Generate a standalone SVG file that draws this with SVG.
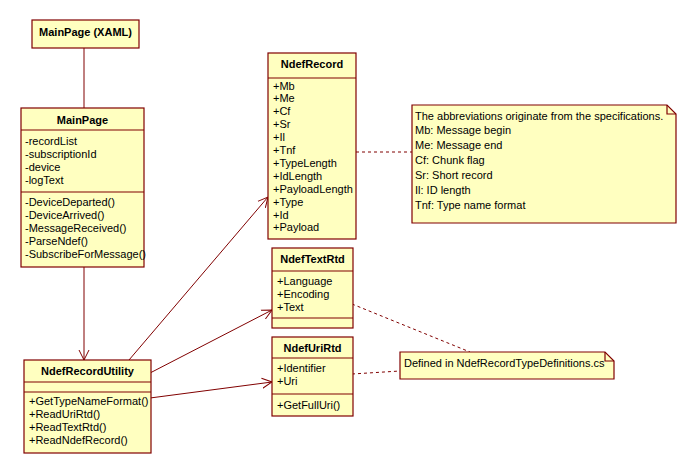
<svg xmlns="http://www.w3.org/2000/svg" width="697" height="474" viewBox="0 0 697 474">
<style>
.box{fill:#FFFFC0;stroke:#800000;stroke-width:1.2}
.sep{stroke:#800000;stroke-width:1.2;fill:none}
.t{font-family:"Liberation Sans",Arial,sans-serif;font-size:11px;fill:#000}
.b{font-weight:bold;text-anchor:middle}
.ln{stroke:#800000;stroke-width:1;fill:none}
.dash{stroke:#800000;stroke-width:1;fill:none;stroke-dasharray:3,3}
</style>
<defs>
<marker id="arr" markerUnits="userSpaceOnUse" markerWidth="12" markerHeight="12" refX="10" refY="5" orient="auto" viewBox="0 0 12 10">
<path d="M0,0 L10,5 L0,10" fill="none" stroke="#800000" stroke-width="1"/>
</marker>
</defs>
<rect width="697" height="474" fill="#fff"/>
<g id="connectors">
<line class="ln" x1="84" y1="48" x2="84" y2="108"/>
<line class="ln" x1="84" y1="267" x2="84" y2="360" marker-end="url(#arr)"/>
<line class="ln" x1="129" y1="360" x2="268" y2="197" marker-end="url(#arr)"/>
<line class="ln" x1="150" y1="373" x2="272" y2="310" marker-end="url(#arr)"/>
<line class="ln" x1="150" y1="398" x2="272" y2="382" marker-end="url(#arr)"/>
<line class="dash" x1="356" y1="152" x2="412" y2="152"/>
<line class="dash" x1="352" y1="304" x2="470" y2="352"/>
<line class="dash" x1="352" y1="374" x2="400" y2="371"/>
</g>
<g id="MainPageXAML">
<rect class="box" x="32" y="20" width="107" height="28"/>
<text class="t b" x="85.5" y="35.5">MainPage (XAML)</text>
</g>
<g id="MainPage">
<rect class="box" x="21" y="108" width="123" height="159"/>
<line class="sep" x1="21" y1="130" x2="144" y2="130"/>
<line class="sep" x1="21" y1="192" x2="144" y2="192"/>
<text class="t b" x="82.5" y="123.5">MainPage</text>
<text class="t" x="25" y="145">-recordList</text>
<text class="t" x="25" y="158">-subscriptionId</text>
<text class="t" x="25" y="171">-device</text>
<text class="t" x="25" y="184">-logText</text>
<text class="t" x="25" y="206">-DeviceDeparted()</text>
<text class="t" x="25" y="219">-DeviceArrived()</text>
<text class="t" x="25" y="232">-MessageReceived()</text>
<text class="t" x="25" y="245">-ParseNdef()</text>
<text class="t" x="25" y="258">-SubscribeForMessage()</text>
</g>
<g id="NdefRecordUtility">
<rect class="box" x="24" y="360" width="127" height="93"/>
<line class="sep" x1="24" y1="382" x2="151" y2="382"/>
<line class="sep" x1="24" y1="392" x2="151" y2="392"/>
<text class="t b" x="87.5" y="375">NdefRecordUtility</text>
<text class="t" x="29" y="405">+GetTypeNameFormat()</text>
<text class="t" x="29" y="418">+ReadUriRtd()</text>
<text class="t" x="29" y="431">+ReadTextRtd()</text>
<text class="t" x="29" y="444">+ReadNdefRecord()</text>
</g>
<g id="NdefRecord">
<rect class="box" x="268" y="53" width="88" height="186"/>
<line class="sep" x1="268" y1="78" x2="356" y2="78"/>
<text class="t b" x="312" y="67.5">NdefRecord</text>
<text class="t" x="273" y="89.5">+Mb</text>
<text class="t" x="273" y="102.4">+Me</text>
<text class="t" x="273" y="115.3">+Cf</text>
<text class="t" x="273" y="128.2">+Sr</text>
<text class="t" x="273" y="141.1">+Il</text>
<text class="t" x="273" y="154">+Tnf</text>
<text class="t" x="273" y="166.9">+TypeLength</text>
<text class="t" x="273" y="179.8">+IdLength</text>
<text class="t" x="273" y="192.7">+PayloadLength</text>
<text class="t" x="273" y="205.6">+Type</text>
<text class="t" x="273" y="218.5">+Id</text>
<text class="t" x="273" y="231.4">+Payload</text>
</g>
<g id="NdefTextRtd">
<rect class="box" x="272" y="248" width="81" height="80"/>
<line class="sep" x1="272" y1="271" x2="353" y2="271"/>
<line class="sep" x1="272" y1="318" x2="353" y2="318"/>
<text class="t b" x="312.5" y="263">NdefTextRtd</text>
<text class="t" x="277" y="285">+Language</text>
<text class="t" x="277" y="298">+Encoding</text>
<text class="t" x="277" y="311">+Text</text>
</g>
<g id="NdefUriRtd">
<rect class="box" x="272" y="337" width="81" height="79"/>
<line class="sep" x1="272" y1="358" x2="353" y2="358"/>
<line class="sep" x1="272" y1="394" x2="353" y2="394"/>
<text class="t b" x="312.5" y="351.5">NdefUriRtd</text>
<text class="t" x="277" y="372">+Identifier</text>
<text class="t" x="277" y="385">+Uri</text>
<text class="t" x="277" y="409">+GetFullUri()</text>
</g>
<g id="NoteAbbreviations">
<path class="box" d="M412,105 L667,105 L676,114 L676,223 L412,223 Z"/>
<path class="sep" d="M667,105 L667,114 L676,114"/>
<text class="t" x="415" y="119.5">The abbreviations originate from the specifications.</text>
<text class="t" x="415" y="134">Mb: Message begin</text>
<text class="t" x="415" y="149">Me: Message end</text>
<text class="t" x="415" y="164">Cf: Chunk flag</text>
<text class="t" x="415" y="179">Sr: Short record</text>
<text class="t" x="415" y="194">Il: ID length</text>
<text class="t" x="415" y="209">Tnf: Type name format</text>
</g>
<g id="NoteDefined">
<path class="box" d="M400,352 L605,352 L614,361 L614,379 L400,379 Z"/>
<path class="sep" d="M605,352 L605,361 L614,361"/>
<text class="t" x="404" y="367">Defined in NdefRecordTypeDefinitions.cs</text>
</g>
</svg>
